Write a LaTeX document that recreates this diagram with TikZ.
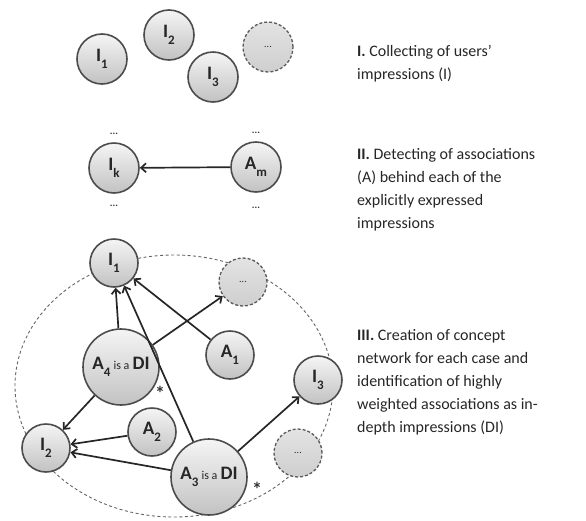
\documentclass[tikz,border=0pt]{standalone}
\usepackage{fontspec}
\setmainfont{Carlito}
\usetikzlibrary{arrows.meta}
\newcommand\sbx[1]{\raisebox{-0.35em}{\fontsize{13}{13}\selectfont #1}}
\tikzset{
  circ/.style={circle, draw=black!70, line width=1.6pt, top color=gray!8, bottom color=gray!48,
    minimum size=50pt, inner sep=0pt, text=black!85, font=\fontsize{19}{19}\selectfont\bfseries},
  bigcirc/.style={circ, minimum size=76pt},
  dotcirc/.style={circ, draw=black!65, dash pattern=on 3pt off 2pt, line width=1.3pt, top color=gray!22, bottom color=gray!38, font=\fontsize{10}{10}\selectfont},
  arr/.style={-{Straight Barb[length=5pt,width=9pt]}, line width=1.7pt, draw=black!85},
  txt/.style={anchor=north west, align=left, inner sep=0pt, font=\fontsize{16}{23}\selectfont, text=black!85},
  dots/.style={font=\fontsize{10}{10}\selectfont\bfseries, inner sep=0pt, text=black!80},
  star/.style={font=\bfseries\fontsize{20}{20}\selectfont, inner sep=0pt, text=black!80}
}
\newcommand\isa{\,{\fontsize{12}{12}\selectfont\mdseries is a}\,}
\begin{document}
\begin{tikzpicture}[x=1pt,y=-1pt]
\useasboundingbox (0,0) rectangle (586,520);
% Section I
\node[circ] (i1) at (102,59) {I\sbx{1}};
\node[circ] (i2) at (169,35) {I\sbx{2}};
\node[circ] (i3) at (213,77) {I\sbx{3}};
\node[dotcirc] (d0) at (268,47) {...};
\node[txt] (t1) at (357,45) {\textbf{I.} Collecting of users’\\impressions (I)};
% Section II
\node[circ] (ik) at (114,168) {I\sbx{k}};
\node[circ] (am) at (256,167) {A\sbx{m}};
\node[dots] (dk1) at (114,134) {...};
\node[dots] (dk2) at (114,206) {...};
\node[dots] (dm1) at (256,133) {...};
\node[dots] (dm2) at (256,208) {...};
\draw[arr] (am) -- (ik);
\node[txt] (t2) at (357,148) {\textbf{II.} Detecting of associations\\(A) behind each of the\\explicitly expressed\\impressions};
% Section III
\draw[draw=black!60, line width=0.9pt, dash pattern=on 3pt off 2.5pt] (174,386) ellipse [x radius=159, y radius=131];
\node[circ, minimum size=48pt] (c1) at (114,263) {I\sbx{1}};
\node[dotcirc, minimum size=48pt] (cd1) at (243,282) {...};
\node[bigcirc] (a4) at (121,367) {A\sbx{4}\isa DI};
\node[circ, minimum size=48pt] (a1) at (230,355) {A\sbx{1}};
\node[circ, minimum size=48pt] (c3) at (318,380) {I\sbx{3}};
\node[circ, minimum size=48pt] (a2) at (152,432) {A\sbx{2}};
\node[circ, minimum size=48pt] (c2) at (46,448) {I\sbx{2}};
\node[bigcirc] (a3) at (209,477) {A\sbx{3}\isa DI};
\node[dotcirc, minimum size=48pt] (cd2) at (298,453) {...};
\node[star] (s4) at (160,393) {*};
\node[star] (s3) at (257,489) {*};
\draw[arr] (a4) -- (c1);
\draw[arr] (a4) -- (cd1);
\draw[arr] (a3) -- (c1);
\draw[arr] (a1) -- (c1);
\draw[arr] (a4) -- (c2);
\draw[arr] (a2) -- (c2);
\draw[arr] (a3) -- (c2);
\draw[arr] (a3) -- (c3);
\node[txt] (t3) at (357,329) {\textbf{III.} Creation of concept\\network for each case and\\identification of highly\\weighted associations as in-\\depth impressions (DI)};
\end{tikzpicture}
\end{document}
